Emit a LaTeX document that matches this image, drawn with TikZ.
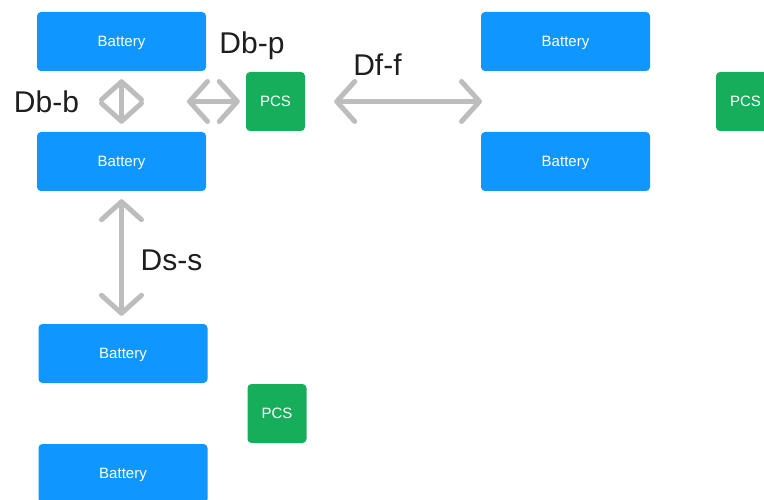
\documentclass[tikz,border=0pt]{standalone}
\usepackage{fontspec}
\setmainfont{Liberation Sans}
\usetikzlibrary{arrows.meta}
\definecolor{batblue}{HTML}{0F97FF}
\definecolor{pcsgreen}{HTML}{17AE5B}
\definecolor{arrgray}{HTML}{BDBDBD}
\definecolor{labdark}{HTML}{1E1E1E}
\begin{document}
\begin{tikzpicture}[x=1pt,y=-1pt,
  battery/.style={fill=batblue, draw=none, rounded corners=4pt, minimum width=169pt, minimum height=59pt, inner sep=0pt, text=white, text height=10pt, text depth=0pt, font=\fontsize{15}{15}\selectfont},
  pcs/.style={fill=pcsgreen, draw=none, rounded corners=4pt, minimum width=59pt, minimum height=59pt, inner sep=0pt, text=white, text height=10.5pt, text depth=0pt, font=\fontsize{15}{15}\selectfont},
  dimarrow/.style={draw=arrgray, line width=5pt, line cap=round, {Straight Barb[length=18pt,width=40pt,round]}-{Straight Barb[length=18pt,width=40pt,round]}},
  dimlabel/.style={text=labdark, font=\fontsize{30}{30}\selectfont, inner sep=0pt, anchor=base}
]
\useasboundingbox (0,0) rectangle (764,500);
% batteries
\node[battery] (b1) at (121.5,41.5) {Battery};
\node[battery] (b2) at (121.5,161.5) {Battery};
\node[battery] (b3) at (123,353.5) {Battery};
\node[battery] (b4) at (123,473.5) {Battery};
\node[battery] (b5) at (565.5,41.5) {Battery};
\node[battery] (b6) at (565.5,161.5) {Battery};
% PCS
\node[pcs] (p1) at (275.5,101.5) {PCS};
\node[pcs] (p2) at (277,413.5) {PCS};
\node[pcs] (p3) at (745.5,101.5) {PCS};
% free ends
\coordinate (dbpL) at (187,101.5);
\coordinate (dffR) at (482,101.5);
% arrows
\draw[dimarrow, shorten <=8pt, shorten >=8pt] (b1.south) -- (b2.north);
\draw[dimarrow, shorten >=6pt] (dbpL) -- (p1.west);
\draw[dimarrow, shorten <=29pt] (p1.east) -- (dffR);
\draw[dimarrow, shorten <=8pt, shorten >=8pt] (b2.south) -- (b2.south |- b3.north);
% labels
\node[dimlabel] (lbp) at (252,54) {Db-p};
\node[dimlabel] (lbb) at (46.5,113) {Db-b};
\node[dimlabel] (lff) at (377.5,76) {Df-f};
\node[dimlabel] (lss) at (171.5,270) {Ds-s};
\end{tikzpicture}
\end{document}
